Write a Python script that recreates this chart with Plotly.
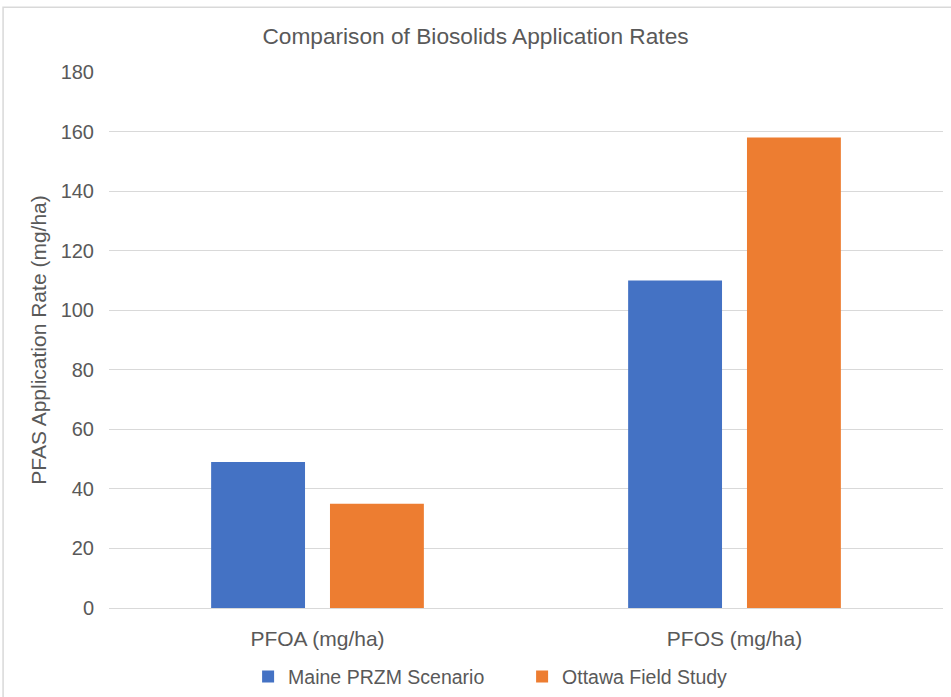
import plotly.graph_objects as go

categories = ["PFOA (mg/ha)", "PFOS (mg/ha)"]
maine_przm = [49, 110]
ottawa_field = [35, 158]
y_ticks = [0, 20, 40, 60, 80, 100, 120, 140, 160, 180]

TEXT = "#595959"
FONT = "Liberation Sans"

fig = go.Figure()
fig.add_trace(go.Bar(name="Maine PRZM Scenario", x=categories, y=maine_przm,
                     marker=dict(color="#4472C4", line=dict(width=0))))
fig.add_trace(go.Bar(name="Ottawa Field Study", x=categories, y=ottawa_field,
                     marker=dict(color="#ED7D31", line=dict(width=0))))

fig.update_layout(
    width=951, height=697,
    margin=dict(l=109, r=8, t=72, b=89, autoexpand=False),
    paper_bgcolor="white", plot_bgcolor="white",
    font=dict(family=FONT, color=TEXT, size=19),
    title=dict(text="Comparison of Biosolids Application Rates",
               x=0.5, xanchor="center", y=0.948, yanchor="middle",
               font=dict(size=22.7, color=TEXT)),
    barmode="group", bargap=0.43, bargroupgap=0.21,
    showlegend=True,
    legend=dict(orientation="h", xref="container", x=0.549, xanchor="center",
                yref="container", y=0.029, yanchor="middle",
                font=dict(size=19.5, color=TEXT), itemwidth=30,
                entrywidth=229, entrywidthmode="pixels",
                traceorder="normal"),
    xaxis=dict(showgrid=False, showline=False, zeroline=False, ticks="",
               tickfont=dict(size=21, color=TEXT), ticklabelstandoff=16),
    yaxis=dict(range=[0, 180], tickvals=y_ticks, showgrid=True, gridcolor="#D9D9D9",
               gridwidth=1, zeroline=True, zerolinecolor="#D9D9D9", zerolinewidth=1,
               showline=False, ticks="", ticklabelstandoff=14,
               tickfont=dict(size=20, color=TEXT),
               title=dict(text="PFAS Application Rate (mg/ha)", standoff=8,
                          font=dict(size=21, color=TEXT))),
    shapes=[dict(type="rect", xref="paper", yref="paper",
                 x0=-0.127, x1=1.02, y0=-0.2, y1=1.121,
                 line=dict(color="#D9D9D9", width=1.5), fillcolor="rgba(0,0,0,0)",
                 layer="below")],
)

fig.write_html("out.html")
